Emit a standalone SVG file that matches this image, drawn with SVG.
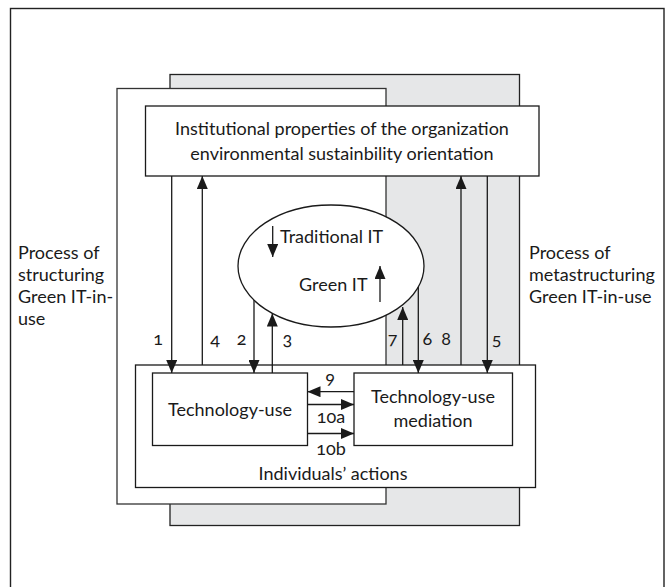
<svg xmlns="http://www.w3.org/2000/svg" width="665" height="587" viewBox="0 0 665 587">
<style>
text{font-family:Lato,"Liberation Sans",sans-serif;font-size:18px;fill:#1a1a1a;font-variant-numeric:oldstyle-nums}
.c{text-anchor:middle}
.box{fill:#fff;stroke:#1a1a1a;stroke-width:1.3}
.frame{fill:none;stroke:#222;stroke-width:1.4}
.arr{stroke:#1a1a1a;stroke-width:1.3;fill:none;marker-end:url(#ah)}
</style>
<defs>
<marker id="ah" markerUnits="userSpaceOnUse" markerWidth="13" markerHeight="11" refX="13" refY="5.5" orient="auto">
<path d="M0,0 L13,5.5 L0,11 z" fill="#1a1a1a"/>
</marker>
</defs>
<rect id="outer" x="10.5" y="8.5" width="653.5" height="600" class="frame"/>
<g id="metastructuring-panel">
<rect x="170" y="74.5" width="349.5" height="451" fill="#e6e7e8" stroke="#222" stroke-width="1.3"/>
</g>
<g id="structuring-panel">
<rect x="117" y="88.5" width="269" height="415.5" fill="#fff" stroke="#333" stroke-width="1.3"/>
</g>
<g id="label-structuring">
<text x="18" y="259">Process of</text>
<text x="18" y="281">structuring</text>
<text x="18" y="303">Green IT-in-</text>
<text x="18" y="325">use</text>
</g>
<g id="label-metastructuring">
<text x="529" y="259">Process of</text>
<text x="529" y="281">metastructuring</text>
<text x="529" y="303">Green IT-in-use</text>
</g>
<g id="institutional">
<rect x="145.5" y="106" width="393.5" height="70" class="box"/>
<text class="c" x="342" y="135">Institutional properties of the organization</text>
<text class="c" x="342" y="160">environmental sustainbility orientation</text>
</g>
<g id="it-ellipse">
<ellipse cx="331" cy="266" rx="93" ry="61" class="box"/>
<text x="280" y="243">Traditional IT</text>
<text x="299" y="291">Green IT</text>
<line x1="272.7" y1="226" x2="272.7" y2="257" class="arr"/>
<line x1="380" y1="302" x2="380" y2="266" class="arr"/>
</g>
<g id="individuals">
<rect x="135.5" y="365" width="400" height="122.5" class="box"/>
<text class="c" x="333" y="480">Individuals’ actions</text>
</g>
<g id="technology-use">
<rect x="152.5" y="373" width="155" height="72.5" class="box"/>
<text class="c" x="230" y="416">Technology-use</text>
</g>
<g id="mediation">
<rect x="354" y="373" width="158.5" height="72.5" class="box"/>
<text class="c" x="433" y="403">Technology-use</text>
<text class="c" x="433" y="427">mediation</text>
</g>
<g id="connectors">
<line x1="171.7" y1="176" x2="171.7" y2="373" class="arr"/>
<line x1="202.3" y1="365" x2="202.3" y2="176" class="arr"/>
<line x1="254" y1="300" x2="254" y2="373" class="arr"/>
<line x1="272.3" y1="373" x2="272.3" y2="313.5" class="arr"/>
<line x1="402.7" y1="365" x2="402.7" y2="307" class="arr"/>
<line x1="418.3" y1="287" x2="418.3" y2="373" class="arr"/>
<line x1="461" y1="365" x2="461" y2="176" class="arr"/>
<line x1="487.3" y1="176" x2="487.3" y2="373" class="arr"/>
<line x1="354" y1="391.7" x2="307.5" y2="391.7" class="arr"/>
<line x1="307.5" y1="404.5" x2="354" y2="404.5" class="arr"/>
<line x1="307.5" y1="433.5" x2="354" y2="433.5" class="arr"/>
<text class="c" x="158" y="345">1</text>
<text class="c" x="215" y="345">4</text>
<text class="c" x="241.7" y="345">2</text>
<text class="c" x="287.3" y="345">3</text>
<text class="c" x="392.7" y="345">7</text>
<text class="c" x="427.3" y="345">6</text>
<text class="c" x="446" y="345">8</text>
<text class="c" x="496.7" y="345">5</text>
<text class="c" x="330" y="384">9</text>
<text class="c" x="331" y="423">10a</text>
<text class="c" x="331" y="455">10b</text>
</g>
</svg>
